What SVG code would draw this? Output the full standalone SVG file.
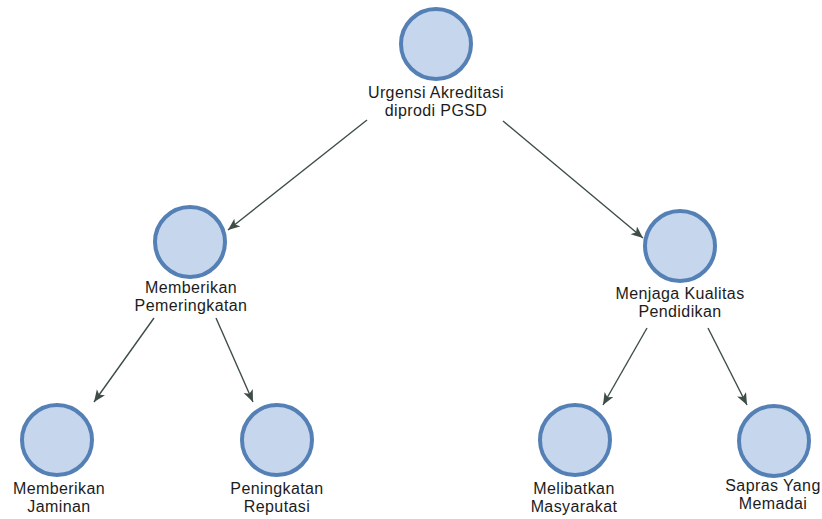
<svg xmlns="http://www.w3.org/2000/svg" width="822" height="519" viewBox="0 0 822 519">
  <style>
    .node circle { fill: #c6d6ec; stroke: #5480b6; stroke-width: 4; }
    .node text { font-family: "Liberation Sans", Arial, sans-serif; font-size: 16px; letter-spacing: 0.4px; fill: #1c1c1c; text-anchor: middle; }
    .edge { stroke: #3e4d46; stroke-width: 1.4; fill: none; marker-end: url(#arrow); }
  </style>
  <defs>
    <marker id="arrow" markerUnits="userSpaceOnUse" markerWidth="14" markerHeight="12" refX="12" refY="5" orient="auto">
      <path d="M0,0 L12,5 L0,10 L3,5 z" fill="#3e4d46"/>
    </marker>
  </defs>
  <rect width="822" height="519" fill="#ffffff"/>
  <g id="connectors">
    <line class="edge" x1="367" y1="120" x2="228" y2="230"/>
    <line class="edge" x1="503" y1="121" x2="643" y2="238"/>
    <line class="edge" x1="154" y1="318" x2="94" y2="402"/>
    <line class="edge" x1="216" y1="318" x2="253" y2="402"/>
    <line class="edge" x1="647" y1="328" x2="603" y2="405"/>
    <line class="edge" x1="708" y1="328" x2="747" y2="405"/>
  </g>
  <g id="node-urgensi" class="node">
    <circle cx="436" cy="44" r="35"/>
    <text x="436" y="98">Urgensi Akreditasi</text>
    <text x="436" y="116">diprodi PGSD</text>
  </g>
  <g id="node-pemeringkatan" class="node">
    <circle cx="190" cy="242" r="35"/>
    <text x="191" y="293">Memberikan</text>
    <text x="191" y="311">Pemeringkatan</text>
  </g>
  <g id="node-kualitas" class="node">
    <circle cx="680" cy="246" r="35"/>
    <text x="680" y="299">Menjaga Kualitas</text>
    <text x="680" y="317">Pendidikan</text>
  </g>
  <g id="node-jaminan" class="node">
    <circle cx="57" cy="440" r="35"/>
    <text x="59" y="494">Memberikan</text>
    <text x="59" y="512">Jaminan</text>
  </g>
  <g id="node-reputasi" class="node">
    <circle cx="277" cy="440" r="35"/>
    <text x="277" y="494">Peningkatan</text>
    <text x="277" y="512">Reputasi</text>
  </g>
  <g id="node-masyarakat" class="node">
    <circle cx="575" cy="440" r="35"/>
    <text x="574" y="494">Melibatkan</text>
    <text x="574" y="512">Masyarakat</text>
  </g>
  <g id="node-sapras" class="node">
    <circle cx="774" cy="441" r="35"/>
    <text x="773" y="491">Sapras Yang</text>
    <text x="773" y="509">Memadai</text>
  </g>
</svg>
